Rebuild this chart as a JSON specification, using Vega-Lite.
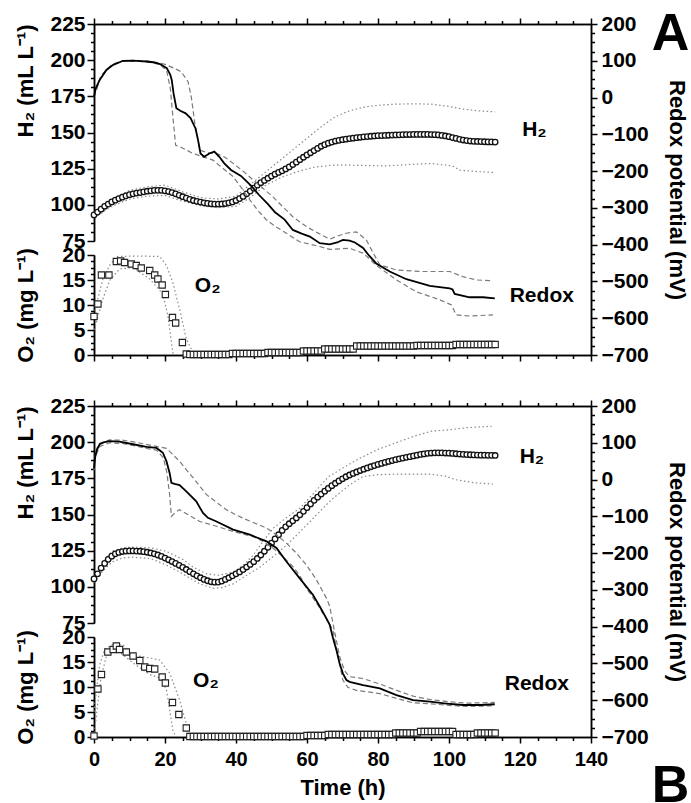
{
"$schema": "https://vega.github.io/schema/vega-lite/v6.json",
"padding": {"left": 14, "top": 8, "right": 0, "bottom": 0},
"spacing": 30,
"config": {
 "view": {"stroke": null},
 "axis": {"grid": false, "labelFont": "Liberation Sans", "labelFontWeight": "bold", "labelFontSize": 21, "labelColor": "black", "titleFont": "Liberation Sans", "titleFontWeight": "bold", "titleFontSize": 22, "titleColor": "black", "domainColor": "black", "domainWidth": 1.5, "tickColor": "black", "tickWidth": 1.5, "labelFlush": false, "labelOverlap": false},
 "text": {"font": "Liberation Sans", "fontWeight": "bold", "color": "black"}
},
"datasets": {
 "aH": [{"t":0,"v":93},{"t":1,"v":95},{"t":2,"v":97},{"t":3,"v":99},{"t":4,"v":100.5},{"t":5,"v":102},{"t":6,"v":103.2},{"t":7,"v":104.3},{"t":8,"v":105.3},{"t":9,"v":106.2},{"t":10,"v":107},{"t":11,"v":107.6},{"t":12,"v":108.1},{"t":13,"v":108.5},{"t":14,"v":109},{"t":15,"v":109.4},{"t":16,"v":109.7},{"t":17,"v":110},{"t":18,"v":110},{"t":19,"v":110},{"t":20,"v":109.7},{"t":21,"v":109.2},{"t":22,"v":108.5},{"t":23,"v":107.6},{"t":24,"v":106.6},{"t":25,"v":105.6},{"t":26,"v":104.7},{"t":27,"v":103.8},{"t":28,"v":103},{"t":29,"v":102.4},{"t":30,"v":101.9},{"t":31,"v":101.4},{"t":32,"v":101},{"t":33,"v":100.7},{"t":34,"v":100.5},{"t":35,"v":100.5},{"t":36,"v":100.6},{"t":37,"v":100.9},{"t":38,"v":101.4},{"t":39,"v":102},{"t":40,"v":103},{"t":41,"v":104.3},{"t":42,"v":105.8},{"t":43,"v":107.6},{"t":44,"v":109.5},{"t":45,"v":111.5},{"t":46,"v":113.6},{"t":47,"v":115.3},{"t":48,"v":116.9},{"t":49,"v":118.4},{"t":50,"v":119.9},{"t":51,"v":121.2},{"t":52,"v":122.4},{"t":53,"v":123.5},{"t":54,"v":124.8},{"t":55,"v":126.2},{"t":56,"v":127.8},{"t":57,"v":129.5},{"t":58,"v":131.2},{"t":59,"v":132.9},{"t":60,"v":134.5},{"t":61,"v":136},{"t":62,"v":137.5},{"t":63,"v":139},{"t":64,"v":140.5},{"t":65,"v":141.6},{"t":66,"v":142.6},{"t":67,"v":143.4},{"t":68,"v":144.1},{"t":69,"v":144.6},{"t":70,"v":145},{"t":71,"v":145.4},{"t":72,"v":145.8},{"t":73,"v":146.1},{"t":74,"v":146.4},{"t":75,"v":146.7},{"t":76,"v":147},{"t":77,"v":147.2},{"t":78,"v":147.4},{"t":79,"v":147.6},{"t":80,"v":147.8},{"t":81,"v":147.9},{"t":82,"v":148},{"t":83,"v":148.1},{"t":84,"v":148.2},{"t":85,"v":148.3},{"t":86,"v":148.4},{"t":87,"v":148.5},{"t":88,"v":148.6},{"t":89,"v":148.6},{"t":90,"v":148.7},{"t":91,"v":148.7},{"t":92,"v":148.7},{"t":93,"v":148.7},{"t":94,"v":148.7},{"t":95,"v":148.6},{"t":96,"v":148.5},{"t":97,"v":148.3},{"t":98,"v":148},{"t":99,"v":147.6},{"t":100,"v":147.1},{"t":101,"v":146.5},{"t":102,"v":145.9},{"t":103,"v":145.3},{"t":104,"v":144.8},{"t":105,"v":144.4},{"t":106,"v":144.1},{"t":107,"v":143.9},{"t":108,"v":143.8},{"t":109,"v":143.7},{"t":110,"v":143.6},{"t":111,"v":143.5},{"t":112,"v":143.5},{"t":113,"v":143.4}],
 "aHb": [{"t":0,"v":95,"s":"hi"},{"t":5,"v":104,"s":"hi"},{"t":10,"v":110,"s":"hi"},{"t":15,"v":112.5,"s":"hi"},{"t":20,"v":113.6,"s":"hi"},{"t":25,"v":109,"s":"hi"},{"t":30,"v":105,"s":"hi"},{"t":35,"v":104,"s":"hi"},{"t":40,"v":106,"s":"hi"},{"t":45,"v":116,"s":"hi"},{"t":50,"v":126,"s":"hi"},{"t":55,"v":136,"s":"hi"},{"t":60,"v":146,"s":"hi"},{"t":64,"v":154,"s":"hi"},{"t":68,"v":161,"s":"hi"},{"t":72,"v":165,"s":"hi"},{"t":76,"v":167.5,"s":"hi"},{"t":80,"v":168.8,"s":"hi"},{"t":85,"v":169.6,"s":"hi"},{"t":90,"v":169.8,"s":"hi"},{"t":95,"v":169.6,"s":"hi"},{"t":100,"v":168,"s":"hi"},{"t":104,"v":166.2,"s":"hi"},{"t":108,"v":165,"s":"hi"},{"t":113,"v":164.3,"s":"hi"},
  {"t":0,"v":91,"s":"lo"},{"t":5,"v":99,"s":"lo"},{"t":10,"v":104,"s":"lo"},{"t":15,"v":106,"s":"lo"},{"t":20,"v":106.5,"s":"lo"},{"t":25,"v":102.5,"s":"lo"},{"t":30,"v":99.5,"s":"lo"},{"t":35,"v":98,"s":"lo"},{"t":40,"v":99,"s":"lo"},{"t":44,"v":105,"s":"lo"},{"t":48,"v":113,"s":"lo"},{"t":53,"v":119.3,"s":"lo"},{"t":58,"v":123.5,"s":"lo"},{"t":62,"v":126,"s":"lo"},{"t":67,"v":127.4,"s":"lo"},{"t":72,"v":127.4,"s":"lo"},{"t":82,"v":126.9,"s":"lo"},{"t":90,"v":128,"s":"lo"},{"t":95,"v":128.6,"s":"lo"},{"t":101,"v":126.9,"s":"lo"},{"t":103,"v":124,"s":"lo"},{"t":108,"v":123,"s":"lo"},{"t":113,"v":122.3,"s":"lo"}],
 "aR": [{"t":0,"v":2},{"t":0.5,"v":25},{"t":1.6,"v":48},{"t":3.5,"v":75},{"t":5.4,"v":89},{"t":8.2,"v":100},{"t":11,"v":100.5},{"t":13,"v":99},{"t":14.8,"v":98},{"t":16.7,"v":96},{"t":18.6,"v":91},{"t":20.5,"v":80},{"t":21.5,"v":62},{"t":21.9,"v":48},{"t":22.4,"v":12},{"t":23.2,"v":-29},{"t":24.3,"v":-36},{"t":25.8,"v":-43},{"t":27.2,"v":-56},{"t":28.6,"v":-84},{"t":29.3,"v":-115},{"t":30,"v":-152},{"t":31,"v":-161},{"t":32.5,"v":-152},{"t":33.9,"v":-147},{"t":35.3,"v":-161},{"t":36.7,"v":-179},{"t":38.6,"v":-197},{"t":41.4,"v":-213},{"t":44.3,"v":-240},{"t":46.5,"v":-265},{"t":49,"v":-290},{"t":51,"v":-312},{"t":53.7,"v":-332},{"t":56,"v":-360},{"t":58.5,"v":-370},{"t":60.8,"v":-378},{"t":63.6,"v":-396},{"t":66.4,"v":-399},{"t":68.5,"v":-394},{"t":70.1,"v":-387},{"t":72,"v":-389},{"t":73.5,"v":-394},{"t":75.8,"v":-409},{"t":77.5,"v":-430},{"t":79.5,"v":-451},{"t":83.3,"v":-473},{"t":88,"v":-494},{"t":94.6,"v":-512},{"t":100.2,"v":-519},{"t":101,"v":-522},{"t":101.6,"v":-534},{"t":105.8,"v":-543},{"t":109.6,"v":-543},{"t":112.9,"v":-546}],
 "aRb": [{"t":0,"v":2,"s":"hi"},{"t":2,"v":60,"s":"hi"},{"t":5,"v":90,"s":"hi"},{"t":8,"v":100,"s":"hi"},{"t":12,"v":101,"s":"hi"},{"t":15,"v":99,"s":"hi"},{"t":18,"v":95,"s":"hi"},{"t":20.4,"v":89,"s":"hi"},{"t":22.5,"v":80,"s":"hi"},{"t":24.6,"v":70,"s":"hi"},{"t":26.5,"v":43,"s":"hi"},{"t":27.4,"v":2,"s":"hi"},{"t":28.4,"v":-70,"s":"hi"},{"t":29.8,"v":-143,"s":"hi"},{"t":32,"v":-150,"s":"hi"},{"t":34.5,"v":-152,"s":"hi"},{"t":37,"v":-163,"s":"hi"},{"t":39.2,"v":-179,"s":"hi"},{"t":42,"v":-200,"s":"hi"},{"t":44.8,"v":-224,"s":"hi"},{"t":47.5,"v":-246,"s":"hi"},{"t":50.4,"v":-270,"s":"hi"},{"t":53,"v":-295,"s":"hi"},{"t":56,"v":-324,"s":"hi"},{"t":60,"v":-352,"s":"hi"},{"t":63,"v":-368,"s":"hi"},{"t":66.4,"v":-385,"s":"hi"},{"t":69,"v":-375,"s":"hi"},{"t":71.1,"v":-369,"s":"hi"},{"t":73.9,"v":-365,"s":"hi"},{"t":76.7,"v":-387,"s":"hi"},{"t":78.5,"v":-420,"s":"hi"},{"t":80.5,"v":-455,"s":"hi"},{"t":85.2,"v":-469,"s":"hi"},{"t":92.7,"v":-473,"s":"hi"},{"t":100.2,"v":-473,"s":"hi"},{"t":103.9,"v":-487,"s":"hi"},{"t":107.7,"v":-496,"s":"hi"},{"t":112.4,"v":-498,"s":"hi"},
  {"t":0,"v":2,"s":"lo"},{"t":2,"v":60,"s":"lo"},{"t":5,"v":88,"s":"lo"},{"t":8,"v":99,"s":"lo"},{"t":12,"v":99,"s":"lo"},{"t":15,"v":97,"s":"lo"},{"t":18.6,"v":90,"s":"lo"},{"t":20.5,"v":72,"s":"lo"},{"t":21.5,"v":25,"s":"lo"},{"t":22.3,"v":-60,"s":"lo"},{"t":23,"v":-130,"s":"lo"},{"t":24.3,"v":-134,"s":"lo"},{"t":27.9,"v":-152,"s":"lo"},{"t":33.5,"v":-170,"s":"lo"},{"t":36,"v":-190,"s":"lo"},{"t":39.2,"v":-215,"s":"lo"},{"t":41.5,"v":-245,"s":"lo"},{"t":43.9,"v":-278,"s":"lo"},{"t":46,"v":-305,"s":"lo"},{"t":48.6,"v":-333,"s":"lo"},{"t":51,"v":-350,"s":"lo"},{"t":54.2,"v":-369,"s":"lo"},{"t":57.9,"v":-392,"s":"lo"},{"t":63.6,"v":-405,"s":"lo"},{"t":66.4,"v":-413,"s":"lo"},{"t":72,"v":-410,"s":"lo"},{"t":75.8,"v":-423,"s":"lo"},{"t":79.5,"v":-456,"s":"lo"},{"t":85.2,"v":-496,"s":"lo"},{"t":90.8,"v":-528,"s":"lo"},{"t":97.4,"v":-550,"s":"lo"},{"t":100.7,"v":-564,"s":"lo"},{"t":102,"v":-591,"s":"lo"},{"t":105.8,"v":-594,"s":"lo"},{"t":112.4,"v":-591,"s":"lo"}],
 "aO": [{"t":0,"v":7.7},{"t":1.1,"v":10.2},{"t":2.1,"v":16},{"t":4.2,"v":16},{"t":6.3,"v":18.7},{"t":7.5,"v":18.8},{"t":8.6,"v":18.5},{"t":10.5,"v":18.2},{"t":11.9,"v":17.9},{"t":13.3,"v":17.4},{"t":15.7,"v":16.9},{"t":17.1,"v":16},{"t":18,"v":15.2},{"t":19.2,"v":14},{"t":20.1,"v":12.1},{"t":22.1,"v":7.5},{"t":23,"v":6.4},{"t":24.9,"v":2.5},
  {"t":26,"v":0.2},{"t":27,"v":0.1},{"t":28,"v":0.1},{"t":29,"v":0.1},{"t":30,"v":0.1},{"t":31,"v":0.1},{"t":32,"v":0.1},{"t":33,"v":0.1},{"t":34,"v":0.1},{"t":35,"v":0.1},{"t":36,"v":0.1},{"t":37,"v":0.1},{"t":38,"v":0.1},{"t":39,"v":0.3},{"t":40,"v":0.3},{"t":41,"v":0.3},{"t":42,"v":0.3},{"t":43,"v":0.3},{"t":44,"v":0.3},{"t":45,"v":0.3},{"t":46,"v":0.3},{"t":47,"v":0.3},{"t":48,"v":0.3},{"t":49,"v":0.5},{"t":50,"v":0.5},{"t":51,"v":0.5},{"t":52,"v":0.5},{"t":53,"v":0.5},{"t":54,"v":0.5},{"t":55,"v":0.5},{"t":56,"v":0.5},{"t":57,"v":0.5},{"t":58,"v":0.5},{"t":59,"v":0.8},{"t":60,"v":0.8},{"t":61,"v":0.8},{"t":62,"v":0.8},{"t":63,"v":0.8},{"t":64,"v":0.8},{"t":65,"v":1.2},{"t":66,"v":1.2},{"t":67,"v":1.2},{"t":68,"v":1.2},{"t":69,"v":1.2},{"t":70,"v":1.2},{"t":71,"v":1.2},{"t":72,"v":1.2},{"t":73,"v":1.2},{"t":74,"v":1.8},{"t":75,"v":1.8},{"t":76,"v":1.8},{"t":77,"v":1.8},{"t":78,"v":1.8},{"t":79,"v":1.8},{"t":80,"v":1.8},{"t":81,"v":1.8},{"t":82,"v":1.8},{"t":83,"v":1.8},{"t":84,"v":1.8},{"t":85,"v":1.8},{"t":86,"v":1.8},{"t":87,"v":1.8},{"t":88,"v":1.8},{"t":89,"v":1.8},{"t":90,"v":1.8},{"t":91,"v":1.9},{"t":92,"v":1.9},{"t":93,"v":1.9},{"t":94,"v":1.9},{"t":95,"v":1.9},{"t":96,"v":1.9},{"t":97,"v":1.9},{"t":98,"v":1.9},{"t":99,"v":1.9},{"t":100,"v":1.9},{"t":101,"v":1.9},{"t":102,"v":2.1},{"t":103,"v":2.1},{"t":104,"v":2.1},{"t":105,"v":2.1},{"t":106,"v":2.1},{"t":107,"v":2.1},{"t":108,"v":2.1},{"t":109,"v":2.1},{"t":110,"v":2.1},{"t":111,"v":2.1},{"t":112,"v":2.1},{"t":113,"v":2.1}],
 "aOb": [{"t":0,"v":8,"s":"hi"},{"t":1,"v":11,"s":"hi"},{"t":2.5,"v":15.2,"s":"hi"},{"t":4.4,"v":17.9,"s":"hi"},{"t":6.3,"v":19.7,"s":"hi"},{"t":12,"v":19.8,"s":"hi"},{"t":18.5,"v":19.7,"s":"hi"},{"t":20.4,"v":17.9,"s":"hi"},{"t":22.2,"v":14.5,"s":"hi"},{"t":24.1,"v":9.2,"s":"hi"},{"t":26,"v":3.2,"s":"hi"},{"t":27.9,"v":0.5,"s":"hi"},{"t":28.5,"v":0,"s":"hi"},
  {"t":0,"v":5,"s":"lo"},{"t":0.4,"v":5.9,"s":"lo"},{"t":2.5,"v":11.2,"s":"lo"},{"t":4.4,"v":14.9,"s":"lo"},{"t":7.2,"v":17.2,"s":"lo"},{"t":11,"v":17.5,"s":"lo"},{"t":15.7,"v":15.2,"s":"lo"},{"t":19.4,"v":12.2,"s":"lo"},{"t":20.8,"v":7.9,"s":"lo"},{"t":21.7,"v":3.2,"s":"lo"},{"t":22.2,"v":0.5,"s":"lo"},{"t":22.5,"v":0,"s":"lo"}],
 "aTxt": [{"lab":"H₂","t":120.6,"r":-104.5},{"lab":"O₂","t":28.4,"r":-529},{"lab":"Redox","t":117.1,"r":-555}],
 "aLet": [{"lab":"A","t":162.4,"r":129}],
 "bH": [{"t":0,"v":105.5},{"t":1,"v":109},{"t":2,"v":113},{"t":3,"v":116.2},{"t":4,"v":119},{"t":5,"v":121.2},{"t":6,"v":122.8},{"t":7,"v":123.8},{"t":8,"v":124.4},{"t":9,"v":124.7},{"t":10,"v":124.8},{"t":11,"v":124.8},{"t":12,"v":124.7},{"t":13,"v":124.6},{"t":14,"v":124.3},{"t":15,"v":123.9},{"t":16,"v":123.4},{"t":17,"v":122.8},{"t":18,"v":122},{"t":19,"v":121},{"t":20,"v":119.9},{"t":21,"v":118.7},{"t":22,"v":117.5},{"t":23,"v":116.2},{"t":24,"v":114.9},{"t":25,"v":113.5},{"t":26,"v":112},{"t":27,"v":110.5},{"t":28,"v":109},{"t":29,"v":107.6},{"t":30,"v":106.3},{"t":31,"v":105.1},{"t":32,"v":104.2},{"t":33,"v":103.5},{"t":34,"v":103.2},{"t":35,"v":103.3},{"t":36,"v":104},{"t":37,"v":105.1},{"t":38,"v":106.3},{"t":39,"v":107.6},{"t":40,"v":109},{"t":41,"v":110.3},{"t":42,"v":111.9},{"t":43,"v":113.7},{"t":44,"v":115.5},{"t":45,"v":117.4},{"t":46,"v":119.6},{"t":47,"v":122},{"t":48,"v":124.6},{"t":49,"v":127.3},{"t":50,"v":130.2},{"t":51,"v":133.1},{"t":52,"v":136},{"t":53,"v":139},{"t":54,"v":141.5},{"t":55,"v":143.6},{"t":56,"v":145.6},{"t":57,"v":147.6},{"t":58,"v":149.8},{"t":59,"v":152.2},{"t":60,"v":154.7},{"t":61,"v":157.3},{"t":62,"v":159.8},{"t":63,"v":162},{"t":64,"v":164.1},{"t":65,"v":166.1},{"t":66,"v":168},{"t":67,"v":169.9},{"t":68,"v":171.6},{"t":69,"v":173.2},{"t":70,"v":174.7},{"t":71,"v":176.1},{"t":72,"v":177.3},{"t":73,"v":178.4},{"t":74,"v":179.4},{"t":75,"v":180.4},{"t":76,"v":181.3},{"t":77,"v":182.2},{"t":78,"v":183},{"t":79,"v":183.8},{"t":80,"v":184.6},{"t":81,"v":185.3},{"t":82,"v":186},{"t":83,"v":186.7},{"t":84,"v":187.3},{"t":85,"v":187.9},{"t":86,"v":188.5},{"t":87,"v":189},{"t":88,"v":189.5},{"t":89,"v":190},{"t":90,"v":190.5},{"t":91,"v":191},{"t":92,"v":191.5},{"t":93,"v":191.9},{"t":94,"v":192.3},{"t":95,"v":192.5},{"t":96,"v":192.6},{"t":97,"v":192.6},{"t":98,"v":192.6},{"t":99,"v":192.5},{"t":100,"v":192.4},{"t":101,"v":192.2},{"t":102,"v":192},{"t":103,"v":191.8},{"t":104,"v":191.6},{"t":105,"v":191.4},{"t":106,"v":191.3},{"t":107,"v":191.2},{"t":108,"v":191.1},{"t":109,"v":191},{"t":110,"v":191},{"t":111,"v":190.9},{"t":112,"v":190.9},{"t":113,"v":190.8}],
 "bHb": [{"t":0,"v":107,"s":"hi"},{"t":2.5,"v":117,"s":"hi"},{"t":5,"v":124.5,"s":"hi"},{"t":8,"v":127,"s":"hi"},{"t":11,"v":127.5,"s":"hi"},{"t":16,"v":127,"s":"hi"},{"t":20.4,"v":124.5,"s":"hi"},{"t":25,"v":119,"s":"hi"},{"t":28,"v":113.5,"s":"hi"},{"t":31.7,"v":109,"s":"hi"},{"t":35,"v":108,"s":"hi"},{"t":39.2,"v":110.1,"s":"hi"},{"t":42,"v":115,"s":"hi"},{"t":44.8,"v":121.7,"s":"hi"},{"t":47.5,"v":131,"s":"hi"},{"t":50.4,"v":140.3,"s":"hi"},{"t":54,"v":147.5,"s":"hi"},{"t":57.9,"v":154.2,"s":"hi"},{"t":62,"v":165,"s":"hi"},{"t":66,"v":176,"s":"hi"},{"t":70,"v":182,"s":"hi"},{"t":75,"v":189,"s":"hi"},{"t":80,"v":195,"s":"hi"},{"t":85,"v":199.5,"s":"hi"},{"t":90,"v":204,"s":"hi"},{"t":95,"v":207.6,"s":"hi"},{"t":100,"v":208.5,"s":"hi"},{"t":105,"v":210,"s":"hi"},{"t":112,"v":211,"s":"hi"},
  {"t":0,"v":103,"s":"lo"},{"t":2.5,"v":111,"s":"lo"},{"t":5,"v":117,"s":"lo"},{"t":8,"v":120,"s":"lo"},{"t":11,"v":120.5,"s":"lo"},{"t":16,"v":119.5,"s":"lo"},{"t":20.4,"v":115,"s":"lo"},{"t":25,"v":109,"s":"lo"},{"t":29.8,"v":102,"s":"lo"},{"t":33.5,"v":99,"s":"lo"},{"t":36,"v":99.5,"s":"lo"},{"t":39.2,"v":102,"s":"lo"},{"t":43,"v":108,"s":"lo"},{"t":46.7,"v":113.6,"s":"lo"},{"t":50,"v":120,"s":"lo"},{"t":54.2,"v":128.7,"s":"lo"},{"t":58,"v":138,"s":"lo"},{"t":62.6,"v":149.6,"s":"lo"},{"t":67,"v":160.5,"s":"lo"},{"t":72,"v":170.5,"s":"lo"},{"t":75.8,"v":176.3,"s":"lo"},{"t":80,"v":177.5,"s":"lo"},{"t":85.2,"v":177.9,"s":"lo"},{"t":94.6,"v":177.9,"s":"lo"},{"t":99,"v":176.5,"s":"lo"},{"t":102,"v":174,"s":"lo"},{"t":107,"v":172,"s":"lo"},{"t":112.4,"v":171,"s":"lo"}],
 "bR": [{"t":0,"v":30},{"t":0.3,"v":60},{"t":0.8,"v":80},{"t":1.6,"v":96},{"t":3,"v":102},{"t":4.4,"v":104.6},{"t":7.2,"v":103},{"t":11,"v":96},{"t":14.8,"v":89},{"t":17.6,"v":86},{"t":19.4,"v":73},{"t":20.4,"v":50},{"t":21.3,"v":18},{"t":21.8,"v":-9},{"t":22.7,"v":-12},{"t":24.1,"v":-15},{"t":26,"v":-32},{"t":28.8,"v":-59},{"t":30.7,"v":-91},{"t":32.1,"v":-104},{"t":34.5,"v":-114},{"t":39.2,"v":-136},{"t":43.9,"v":-150},{"t":48.6,"v":-168},{"t":51.4,"v":-186},{"t":54.2,"v":-223},{"t":57.9,"v":-268},{"t":61.7,"v":-314},{"t":63.6,"v":-345},{"t":65.5,"v":-378},{"t":66.4,"v":-395},{"t":67.3,"v":-430},{"t":68.3,"v":-464},{"t":69.2,"v":-500},{"t":70.1,"v":-527},{"t":71.1,"v":-545},{"t":72,"v":-550},{"t":75.8,"v":-559},{"t":80.5,"v":-568},{"t":85.2,"v":-586},{"t":89.9,"v":-600},{"t":94.6,"v":-604},{"t":99.3,"v":-609},{"t":104,"v":-613},{"t":108.7,"v":-613},{"t":112.9,"v":-611}],
 "bRb": [{"t":0,"v":35,"s":"hi"},{"t":0.5,"v":80,"s":"hi"},{"t":1.6,"v":99,"s":"hi"},{"t":4.4,"v":108,"s":"hi"},{"t":8,"v":107,"s":"hi"},{"t":12,"v":101,"s":"hi"},{"t":15,"v":95,"s":"hi"},{"t":17.6,"v":90,"s":"hi"},{"t":20.4,"v":85,"s":"hi"},{"t":22,"v":70,"s":"hi"},{"t":24.1,"v":50,"s":"hi"},{"t":26,"v":27,"s":"hi"},{"t":27.9,"v":5,"s":"hi"},{"t":29.8,"v":-18,"s":"hi"},{"t":31.7,"v":-41,"s":"hi"},{"t":34.5,"v":-62,"s":"hi"},{"t":37.3,"v":-82,"s":"hi"},{"t":40,"v":-96,"s":"hi"},{"t":42.9,"v":-109,"s":"hi"},{"t":45.7,"v":-120,"s":"hi"},{"t":48.6,"v":-132,"s":"hi"},{"t":51.4,"v":-150,"s":"hi"},{"t":54.2,"v":-173,"s":"hi"},{"t":57,"v":-200,"s":"hi"},{"t":59.8,"v":-232,"s":"hi"},{"t":62.5,"v":-270,"s":"hi"},{"t":65.5,"v":-323,"s":"hi"},{"t":66.4,"v":-345,"s":"hi"},{"t":67.8,"v":-415,"s":"hi"},{"t":69.2,"v":-482,"s":"hi"},{"t":70.6,"v":-520,"s":"hi"},{"t":72,"v":-536,"s":"hi"},{"t":75.8,"v":-541,"s":"hi"},{"t":80.5,"v":-556,"s":"hi"},{"t":85.2,"v":-573,"s":"hi"},{"t":89.9,"v":-589,"s":"hi"},{"t":94.6,"v":-598,"s":"hi"},{"t":100,"v":-604,"s":"hi"},{"t":105,"v":-608,"s":"hi"},{"t":112.9,"v":-606,"s":"hi"},
  {"t":0,"v":25,"s":"lo"},{"t":0.5,"v":65,"s":"lo"},{"t":1.6,"v":90,"s":"lo"},{"t":4.4,"v":100,"s":"lo"},{"t":8,"v":98,"s":"lo"},{"t":12,"v":91,"s":"lo"},{"t":15,"v":84,"s":"lo"},{"t":17.6,"v":80,"s":"lo"},{"t":19.5,"v":60,"s":"lo"},{"t":20.5,"v":20,"s":"lo"},{"t":21.3,"v":-40,"s":"lo"},{"t":21.8,"v":-100,"s":"lo"},{"t":22.8,"v":-90,"s":"lo"},{"t":24.1,"v":-82,"s":"lo"},{"t":27,"v":-98,"s":"lo"},{"t":29.8,"v":-114,"s":"lo"},{"t":34.5,"v":-127,"s":"lo"},{"t":39.2,"v":-141,"s":"lo"},{"t":44.8,"v":-155,"s":"lo"},{"t":47.6,"v":-168,"s":"lo"},{"t":50.4,"v":-186,"s":"lo"},{"t":53,"v":-208,"s":"lo"},{"t":56,"v":-236,"s":"lo"},{"t":58,"v":-262,"s":"lo"},{"t":59.8,"v":-295,"s":"lo"},{"t":63,"v":-340,"s":"lo"},{"t":65.5,"v":-380,"s":"lo"},{"t":67.3,"v":-409,"s":"lo"},{"t":68.7,"v":-480,"s":"lo"},{"t":70.1,"v":-545,"s":"lo"},{"t":71.5,"v":-565,"s":"lo"},{"t":73.9,"v":-573,"s":"lo"},{"t":80.5,"v":-582,"s":"lo"},{"t":85.2,"v":-595,"s":"lo"},{"t":89.9,"v":-607,"s":"lo"},{"t":95,"v":-610,"s":"lo"},{"t":100,"v":-614,"s":"lo"},{"t":105,"v":-617,"s":"lo"},{"t":112.9,"v":-615,"s":"lo"}],
 "bO": [{"t":0,"v":0.2},{"t":1.1,"v":9.6},{"t":2.1,"v":12.5},{"t":3.9,"v":17},{"t":5.4,"v":17.5},{"t":6.3,"v":18.2},{"t":7.2,"v":17.5},{"t":9.1,"v":17},{"t":11,"v":16.2},{"t":12.9,"v":15.3},{"t":14.3,"v":14},{"t":15.7,"v":13.7},{"t":17.1,"v":13.6},{"t":19.2,"v":12},{"t":20.1,"v":10.8},{"t":22.1,"v":6.9},{"t":23.9,"v":4.5},{"t":26,"v":1.8},
  {"t":27,"v":0.1},{"t":28,"v":0.1},{"t":29,"v":0.1},{"t":30,"v":0.1},{"t":31,"v":0.1},{"t":32,"v":0.1},{"t":33,"v":0.1},{"t":34,"v":0.1},{"t":35,"v":0.1},{"t":36,"v":0.1},{"t":37,"v":0.1},{"t":38,"v":0.1},{"t":39,"v":0.1},{"t":40,"v":0.1},{"t":41,"v":0.1},{"t":42,"v":0.1},{"t":43,"v":0.1},{"t":44,"v":0.1},{"t":45,"v":0.1},{"t":46,"v":0.1},{"t":47,"v":0.1},{"t":48,"v":0.1},{"t":49,"v":0.1},{"t":50,"v":0.1},{"t":51,"v":0.1},{"t":52,"v":0.1},{"t":53,"v":0.1},{"t":54,"v":0.1},{"t":55,"v":0.1},{"t":56,"v":0.1},{"t":57,"v":0.1},{"t":58,"v":0.1},{"t":59,"v":0.1},{"t":60,"v":0.3},{"t":61,"v":0.3},{"t":62,"v":0.3},{"t":63,"v":0.3},{"t":64,"v":0.3},{"t":65,"v":0.3},{"t":66,"v":0.5},{"t":67,"v":0.5},{"t":68,"v":0.5},{"t":69,"v":0.5},{"t":70,"v":0.5},{"t":71,"v":0.5},{"t":72,"v":0.5},{"t":73,"v":0.5},{"t":74,"v":0.5},{"t":75,"v":0.5},{"t":76,"v":0.5},{"t":77,"v":0.5},{"t":78,"v":0.5},{"t":79,"v":0.5},{"t":80,"v":0.5},{"t":81,"v":0.5},{"t":82,"v":0.5},{"t":83,"v":0.5},{"t":84,"v":0.5},{"t":85,"v":0.8},{"t":86,"v":0.8},{"t":87,"v":0.8},{"t":88,"v":0.8},{"t":89,"v":0.8},{"t":90,"v":0.8},{"t":91,"v":0.8},{"t":92,"v":1.1},{"t":93,"v":1.1},{"t":94,"v":1.1},{"t":95,"v":1.1},{"t":96,"v":1.1},{"t":97,"v":1.1},{"t":98,"v":1.1},{"t":99,"v":1.1},{"t":100,"v":1.1},{"t":101,"v":1.1},{"t":102,"v":0.5},{"t":103,"v":0.5},{"t":104,"v":0.5},{"t":105,"v":0.5},{"t":106,"v":0.5},{"t":107,"v":0.5},{"t":108,"v":0.8},{"t":109,"v":0.8},{"t":110,"v":0.8},{"t":111,"v":0.8},{"t":112,"v":0.8},{"t":113,"v":0.8}],
 "bOb": [{"t":0,"v":5,"s":"hi"},{"t":0.8,"v":10,"s":"hi"},{"t":1.6,"v":14.5,"s":"hi"},{"t":3,"v":17.5,"s":"hi"},{"t":5.4,"v":18.6,"s":"hi"},{"t":8.2,"v":18.4,"s":"hi"},{"t":11,"v":16.4,"s":"hi"},{"t":15.7,"v":15.8,"s":"hi"},{"t":18.5,"v":15.4,"s":"hi"},{"t":21.3,"v":12.8,"s":"hi"},{"t":24.1,"v":7.4,"s":"hi"},{"t":26,"v":2.7,"s":"hi"},{"t":26.9,"v":0,"s":"hi"},
  {"t":0,"v":0,"s":"lo"},{"t":1.1,"v":7,"s":"lo"},{"t":2,"v":12,"s":"lo"},{"t":3.5,"v":16.2,"s":"lo"},{"t":6.3,"v":17.5,"s":"lo"},{"t":11,"v":14.8,"s":"lo"},{"t":15.7,"v":12.5,"s":"lo"},{"t":18.5,"v":11.8,"s":"lo"},{"t":20.4,"v":9.5,"s":"lo"},{"t":21.3,"v":5.5,"s":"lo"},{"t":22.2,"v":1.4,"s":"lo"},{"t":23,"v":0,"s":"lo"}],
 "bTxt": [{"lab":"H₂","t":119.9,"r":45.6},{"lab":"O₂","t":27.9,"r":-563.6},{"lab":"Redox","t":115.7,"r":-572.6}],
 "bLet": [{"lab":"B","t":162.4,"r":-876}]
},
"vconcat": [
 {
  "width": 497, "height": 331,
  "resolve": {"scale": {"y": "independent"}, "axis": {"x": "independent", "y": "independent"}},
  "layer": [
   {"data": {"name": "aHb"}, "mark": {"type": "line", "color": "#8a8a8a", "strokeWidth": 1.2, "strokeDash": [1.5, 2.5]},
    "encoding": {
     "x": {"field": "t", "type": "quantitative", "scale": {"domain": [0, 140], "nice": false, "zero": false}, "axis": {"orient": "top", "values": [0,20,40,60,80,100,120,140], "labels": false, "tickSize": 6, "title": null}},
     "y": {"field": "v", "type": "quantitative", "scale": {"domain": [75, 225], "range": [217, 0], "nice": false, "zero": false}, "axis": {"orient": "left", "values": [81.25,87.5,93.75,106.25,112.5,118.75,131.25,137.5,143.75,156.25,162.5,168.75,181.25,187.5,193.75,206.25,212.5,218.75], "labels": false, "tickSize": 3.5, "title": null}},
     "detail": {"field": "s", "type": "nominal"}}},
   {"data": {"name": "aH"}, "mark": {"type": "point", "shape": "circle", "filled": true, "fill": "white", "stroke": "#111", "strokeWidth": 1.3, "size": 30, "opacity": 1},
    "encoding": {
     "x": {"field": "t", "type": "quantitative", "scale": {"domain": [0, 140], "nice": false, "zero": false}, "axis": {"orient": "bottom", "values": [0,20,40,60,80,100,120,140], "labels": false, "tickSize": 6, "title": null}},
     "y": {"field": "v", "type": "quantitative", "scale": {"domain": [75, 225], "range": [217, 0], "nice": false, "zero": false}, "axis": {"orient": "left", "values": [75,100,125,150,175,200,225], "tickSize": 7, "labelPadding": 2, "title": "H₂ (mL L⁻¹)", "titleAnchor": "end", "titlePadding": 12}}}},
   {"data": {"name": "aRb"}, "mark": {"type": "line", "color": "#7a7a7a", "strokeWidth": 1.2, "strokeDash": [5, 3]},
    "encoding": {
     "x": {"field": "t", "type": "quantitative", "scale": {"domain": [0, 140], "nice": false, "zero": false}, "axis": {"orient": "top", "values": [5,10,15,25,30,35,45,50,55,65,70,75,85,90,95,105,110,115,125,130,135], "labels": false, "tickSize": 3.5, "title": null}},
     "y": {"field": "v", "type": "quantitative", "scale": {"domain": [-700, 200], "nice": false, "zero": false}, "axis": {"orient": "right", "values": [-675,-650,-625,-575,-550,-525,-475,-450,-425,-375,-350,-325,-275,-250,-225,-175,-150,-125,-75,-50,-25,25,50,75,125,150,175], "labels": false, "tickSize": 3.5, "title": null}},
     "detail": {"field": "s", "type": "nominal"}}},
   {"data": {"name": "aR"}, "mark": {"type": "line", "color": "black", "strokeWidth": 1.8},
    "encoding": {
     "x": {"field": "t", "type": "quantitative", "scale": {"domain": [0, 140], "nice": false, "zero": false}, "axis": {"orient": "bottom", "values": [5,10,15,25,30,35,45,50,55,65,70,75,85,90,95,105,110,115,125,130,135], "labels": false, "tickSize": 3.5, "title": null}},
     "y": {"field": "v", "type": "quantitative", "scale": {"domain": [-700, 200], "nice": false, "zero": false}, "axis": {"orient": "right", "values": [-700,-600,-500,-400,-300,-200,-100,0,100,200], "tickSize": 6, "labelPadding": 4, "title": "Redox potential (mV)", "titlePadding": 16}}}},
   {"data": {"name": "aOb"}, "mark": {"type": "line", "color": "#8a8a8a", "strokeWidth": 1.2, "strokeDash": [1.5, 2.5]},
    "encoding": {
     "x": {"field": "t", "type": "quantitative", "scale": {"domain": [0, 140], "nice": false, "zero": false}, "axis": null},
     "y": {"field": "v", "type": "quantitative", "scale": {"domain": [0, 20], "range": [331, 231], "nice": false, "zero": false}, "axis": {"orient": "left", "values": [1.25,2.5,3.75,6.25,7.5,8.75,11.25,12.5,13.75,16.25,17.5,18.75], "labels": false, "tickSize": 3.5, "title": null}},
     "detail": {"field": "s", "type": "nominal"}}},
   {"data": {"name": "aO"}, "mark": {"type": "point", "shape": "square", "filled": true, "fill": "white", "stroke": "#222", "strokeWidth": 1.1, "size": 40, "opacity": 1},
    "encoding": {
     "x": {"field": "t", "type": "quantitative", "scale": {"domain": [0, 140], "nice": false, "zero": false}, "axis": null},
     "y": {"field": "v", "type": "quantitative", "scale": {"domain": [0, 20], "range": [331, 231], "nice": false, "zero": false}, "axis": {"orient": "left", "values": [0,5,10,15,20], "tickSize": 7, "labelPadding": 2, "title": "O₂ (mg L⁻¹)", "titlePadding": 24}}}},
   {"data": {"name": "aTxt"}, "mark": {"type": "text", "fontSize": 21, "align": "left", "baseline": "alphabetic"},
    "encoding": {
     "x": {"field": "t", "type": "quantitative", "scale": {"domain": [0, 140], "nice": false, "zero": false}, "axis": null},
     "y": {"field": "r", "type": "quantitative", "scale": {"domain": [-700, 200], "nice": false, "zero": false}, "axis": null},
     "text": {"field": "lab"}}},
   {"data": {"name": "aLet"}, "mark": {"type": "text", "fontSize": 52, "align": "center", "baseline": "alphabetic"},
    "encoding": {
     "x": {"field": "t", "type": "quantitative", "scale": {"domain": [0, 140], "nice": false, "zero": false}, "axis": null},
     "y": {"field": "r", "type": "quantitative", "scale": {"domain": [-700, 200], "nice": false, "zero": false}, "axis": null},
     "text": {"field": "lab"}}}
  ]
 },
 {
  "width": 497, "height": 331,
  "resolve": {"scale": {"y": "independent"}, "axis": {"x": "independent", "y": "independent"}},
  "layer": [
   {"data": {"name": "bHb"}, "mark": {"type": "line", "color": "#8a8a8a", "strokeWidth": 1.2, "strokeDash": [1.5, 2.5]},
    "encoding": {
     "x": {"field": "t", "type": "quantitative", "scale": {"domain": [0, 140], "nice": false, "zero": false}, "axis": {"orient": "top", "values": [0,20,40,60,80,100,120,140], "labels": false, "tickSize": 6, "title": null}},
     "y": {"field": "v", "type": "quantitative", "scale": {"domain": [75, 225], "range": [217, 0], "nice": false, "zero": false}, "axis": {"orient": "left", "values": [81.25,87.5,93.75,106.25,112.5,118.75,131.25,137.5,143.75,156.25,162.5,168.75,181.25,187.5,193.75,206.25,212.5,218.75], "labels": false, "tickSize": 3.5, "title": null}},
     "detail": {"field": "s", "type": "nominal"}}},
   {"data": {"name": "bH"}, "mark": {"type": "point", "shape": "circle", "filled": true, "fill": "white", "stroke": "#111", "strokeWidth": 1.3, "size": 30, "opacity": 1},
    "encoding": {
     "x": {"field": "t", "type": "quantitative", "scale": {"domain": [0, 140], "nice": false, "zero": false}, "axis": {"orient": "bottom", "values": [0,20,40,60,80,100,120,140], "tickSize": 6, "labelPadding": 6, "labelFontSize": 20, "title": "Time (h)", "titlePadding": 8}},
     "y": {"field": "v", "type": "quantitative", "scale": {"domain": [75, 225], "range": [217, 0], "nice": false, "zero": false}, "axis": {"orient": "left", "values": [75,100,125,150,175,200,225], "tickSize": 7, "labelPadding": 2, "title": "H₂ (mL L⁻¹)", "titleAnchor": "end", "titlePadding": 12}}}},
   {"data": {"name": "bRb"}, "mark": {"type": "line", "color": "#7a7a7a", "strokeWidth": 1.2, "strokeDash": [5, 3]},
    "encoding": {
     "x": {"field": "t", "type": "quantitative", "scale": {"domain": [0, 140], "nice": false, "zero": false}, "axis": {"orient": "top", "values": [5,10,15,25,30,35,45,50,55,65,70,75,85,90,95,105,110,115,125,130,135], "labels": false, "tickSize": 3.5, "title": null}},
     "y": {"field": "v", "type": "quantitative", "scale": {"domain": [-700, 200], "nice": false, "zero": false}, "axis": {"orient": "right", "values": [-675,-650,-625,-575,-550,-525,-475,-450,-425,-375,-350,-325,-275,-250,-225,-175,-150,-125,-75,-50,-25,25,50,75,125,150,175], "labels": false, "tickSize": 3.5, "title": null}},
     "detail": {"field": "s", "type": "nominal"}}},
   {"data": {"name": "bR"}, "mark": {"type": "line", "color": "black", "strokeWidth": 1.8},
    "encoding": {
     "x": {"field": "t", "type": "quantitative", "scale": {"domain": [0, 140], "nice": false, "zero": false}, "axis": {"orient": "bottom", "values": [5,10,15,25,30,35,45,50,55,65,70,75,85,90,95,105,110,115,125,130,135], "labels": false, "tickSize": 3.5, "title": null}},
     "y": {"field": "v", "type": "quantitative", "scale": {"domain": [-700, 200], "nice": false, "zero": false}, "axis": {"orient": "right", "values": [-700,-600,-500,-400,-300,-200,-100,0,100,200], "tickSize": 6, "labelPadding": 4, "title": "Redox potential (mV)", "titlePadding": 16}}}},
   {"data": {"name": "bOb"}, "mark": {"type": "line", "color": "#8a8a8a", "strokeWidth": 1.2, "strokeDash": [1.5, 2.5]},
    "encoding": {
     "x": {"field": "t", "type": "quantitative", "scale": {"domain": [0, 140], "nice": false, "zero": false}, "axis": null},
     "y": {"field": "v", "type": "quantitative", "scale": {"domain": [0, 20], "range": [331, 231], "nice": false, "zero": false}, "axis": {"orient": "left", "values": [1.25,2.5,3.75,6.25,7.5,8.75,11.25,12.5,13.75,16.25,17.5,18.75], "labels": false, "tickSize": 3.5, "title": null}},
     "detail": {"field": "s", "type": "nominal"}}},
   {"data": {"name": "bO"}, "mark": {"type": "point", "shape": "square", "filled": true, "fill": "white", "stroke": "#222", "strokeWidth": 1.1, "size": 40, "opacity": 1},
    "encoding": {
     "x": {"field": "t", "type": "quantitative", "scale": {"domain": [0, 140], "nice": false, "zero": false}, "axis": null},
     "y": {"field": "v", "type": "quantitative", "scale": {"domain": [0, 20], "range": [331, 231], "nice": false, "zero": false}, "axis": {"orient": "left", "values": [0,5,10,15,20], "tickSize": 7, "labelPadding": 2, "title": "O₂ (mg L⁻¹)", "titlePadding": 24}}}},
   {"data": {"name": "bTxt"}, "mark": {"type": "text", "fontSize": 21, "align": "left", "baseline": "alphabetic"},
    "encoding": {
     "x": {"field": "t", "type": "quantitative", "scale": {"domain": [0, 140], "nice": false, "zero": false}, "axis": null},
     "y": {"field": "r", "type": "quantitative", "scale": {"domain": [-700, 200], "nice": false, "zero": false}, "axis": null},
     "text": {"field": "lab"}}},
   {"data": {"name": "bLet"}, "mark": {"type": "text", "fontSize": 52, "align": "center", "baseline": "alphabetic"},
    "encoding": {
     "x": {"field": "t", "type": "quantitative", "scale": {"domain": [0, 140], "nice": false, "zero": false}, "axis": null},
     "y": {"field": "r", "type": "quantitative", "scale": {"domain": [-700, 200], "nice": false, "zero": false}, "axis": null},
     "text": {"field": "lab"}}}
  ]
 }
]
}
